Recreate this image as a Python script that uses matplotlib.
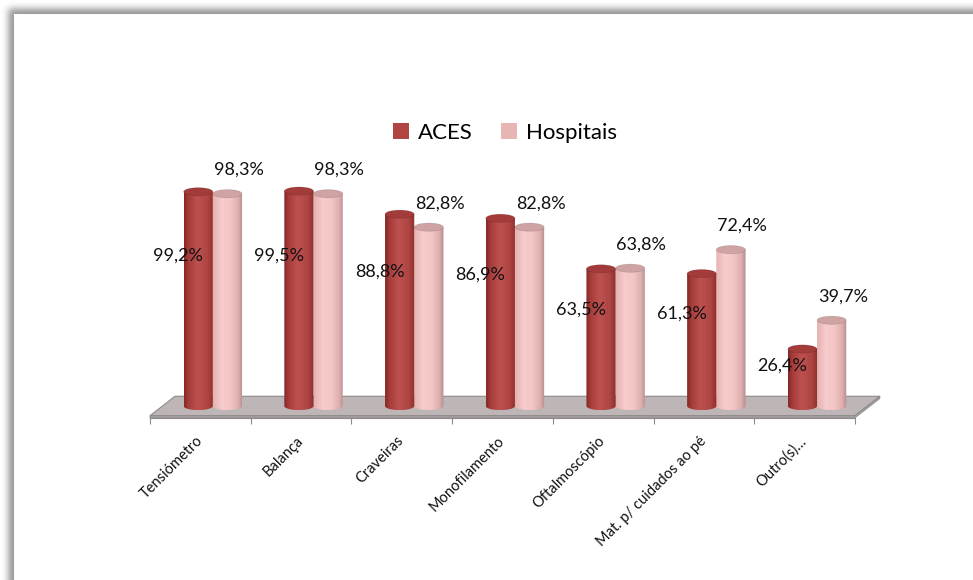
import numpy as np
import matplotlib
matplotlib.use("Agg")
import matplotlib.pyplot as plt
from math import erf
from matplotlib.colors import LinearSegmentedColormap
from matplotlib.patches import Ellipse, PathPatch, Polygon, Patch
from matplotlib.path import Path

plt.rcParams["font.family"] = ["Lato", "DejaVu Sans"]

# -----------------------------
# Data
# -----------------------------
categories = ["Tensiómetro", "Balança", "Craveiras", "Monofilamento",
              "Oftalmoscópio", "Mat. p/ cuidados ao pé", "Outro(s)…"]
aces = [99.2, 99.5, 88.8, 86.9, 63.5, 61.3, 26.4]
hospitais = [98.3, 98.3, 82.8, 82.8, 63.8, 72.4, 39.7]
series_names = ["ACES", "Hospitais"]

# -----------------------------
# Layout (pixels on a 973x580 canvas)
# -----------------------------
W, H = 973, 580
PX_PER_CAT = 100.7      # width of one category slot
X0_PX = 150             # pixel of x = -0.5 (front-left floor corner)
PX_PER_PCT = 2.16       # vertical pixels per percent
BASE_PX = 406           # pixel row of y = 0 (bar bases, mid depth)
XLIM = (-0.6, 7.0)
YLIM = (-12, 112)

DEPTH_X = 0.248         # floor skew, in category units
DEPTH_Y = 9.0           # floor depth, in percent units
FRONT_Y = -DEPTH_Y / 2
BAR_W = 0.29
ELL_H = 3.8

fig = plt.figure(figsize=(W / 100, H / 100), dpi=100)

# drop shadow along the top and left edges of the chart area
bg = fig.add_axes([0, 0, 1, 1])
yy, xx = np.mgrid[0:H, 0:W]
erf_v = np.vectorize(erf)
sx = 0.5 * (1 + erf_v((np.arange(W) - 8) / 5.0))
sy = 0.5 * (1 + erf_v((np.arange(H) - 8) / 5.0))
shade = 1 - 0.42 * sy[:, None] * sx[None, :]
shade[(xx >= 14) & (yy >= 14)] = 1.0
bg.imshow(shade, cmap="gray", vmin=0, vmax=1, extent=[0, W, H, 0], aspect="auto")
bg.set_xlim(0, W)
bg.set_ylim(H, 0)
bg.axis("off")

left_px = X0_PX + (XLIM[0] + 0.5) * PX_PER_CAT
width_px = (XLIM[1] - XLIM[0]) * PX_PER_CAT
bottom_px = BASE_PX - YLIM[0] * PX_PER_PCT
top_px = BASE_PX - YLIM[1] * PX_PER_PCT
ax = fig.add_axes([left_px / W, 1 - bottom_px / H, width_px / W, (bottom_px - top_px) / H])
ax.patch.set_alpha(0)

# -----------------------------
# Floor
# -----------------------------
x_left, x_right = -0.5, len(categories) - 0.5
floor = Polygon([(x_left, FRONT_Y), (x_right, FRONT_Y),
                 (x_right + DEPTH_X, FRONT_Y + DEPTH_Y), (x_left + DEPTH_X, FRONT_Y + DEPTH_Y)],
                closed=True, facecolor="#BEB6B6", edgecolor="#8E8A8A", lw=0.8, zorder=1)
ax.add_patch(floor)
edge = Polygon([(x_left, FRONT_Y), (x_right, FRONT_Y),
                (x_right + DEPTH_X, FRONT_Y + DEPTH_Y), (x_right + DEPTH_X, FRONT_Y + DEPTH_Y - 1.0),
                (x_right, FRONT_Y - 1.0), (x_left, FRONT_Y - 1.0)],
               closed=True, facecolor="#A7A0A0", edgecolor="#8E8A8A", lw=0.6, zorder=1)
ax.add_patch(edge)

# -----------------------------
# Cylinders
# -----------------------------
red_cmap = LinearSegmentedColormap.from_list(
    "red_cyl", [(0, "#862826"), (0.15, "#A53D3B"), (0.45, "#BD514F"), (0.8, "#AE4543"), (1, "#8E2D2B")])
pink_cmap = LinearSegmentedColormap.from_list(
    "pink_cyl", [(0, "#E6B2B2"), (0.3, "#F7CCCC"), (0.6, "#F3C4C4"), (0.85, "#DDAFAF"), (1, "#B58C8C")])
gradient = np.linspace(0, 1, 64)[None, :]


def cylinder(xc, h, cmap, top_color, z):
    t = np.linspace(np.pi, 2 * np.pi, 40)
    verts = [(xc - BAR_W / 2, h)]
    verts += list(zip(xc + BAR_W / 2 * np.cos(t), ELL_H / 2 * np.sin(t)))
    verts += [(xc + BAR_W / 2, h), (xc - BAR_W / 2, h)]
    body = PathPatch(Path(verts, closed=False), facecolor="none", edgecolor="none", zorder=z)
    ax.add_patch(body)
    im = ax.imshow(gradient, cmap=cmap, aspect="auto", zorder=z,
                   extent=[xc - BAR_W / 2, xc + BAR_W / 2, -ELL_H / 2, h])
    im.set_clip_path(body)
    ax.add_patch(Ellipse((xc, h), BAR_W, ELL_H, facecolor=top_color,
                         edgecolor="#00000022", lw=0.5, zorder=z + 0.1))


pair_shift = DEPTH_X / 2
for i, (a, p) in enumerate(zip(aces, hospitais)):
    xr = i + pair_shift - BAR_W / 2
    xp = i + pair_shift + BAR_W / 2
    cylinder(xp, p, pink_cmap, "#CFA3A3", 2)
    cylinder(xr, a, red_cmap, "#A23B39", 3)

    ax.text(xr - 0.2, a * 0.7, f"{a:.1f}%".replace(".", ","), ha="center", va="center",
            fontsize=13, color="#111111", zorder=5)
    ax.text(xp + 0.11, p + 11, f"{p:.1f}%".replace(".", ","), ha="center", va="center",
            fontsize=13, color="#111111", zorder=5)

# -----------------------------
# Category axis
# -----------------------------
for s in ["top", "right", "left"]:
    ax.spines[s].set_visible(False)
ax.spines["bottom"].set_position(("data", FRONT_Y - 1.0))
ax.spines["bottom"].set_bounds(x_left, x_right)
ax.spines["bottom"].set_color("#8E8A8A")
ax.spines["bottom"].set_linewidth(0.8)
ax.set_yticks([])
ax.set_xticks(np.arange(len(categories) + 1) - 0.5, minor=True)
ax.set_xticks(np.arange(len(categories)))
ax.set_xticklabels(categories, rotation=45, ha="right", va="center",
                   rotation_mode="anchor", fontsize=10.5, color="#111111")
ax.tick_params(axis="x", which="major", length=0, pad=15)
ax.tick_params(axis="x", which="minor", length=4, color="#8E8A8A", width=0.8)
ax.set_xlim(*XLIM)
ax.set_ylim(*YLIM)

# -----------------------------
# Legend
# -----------------------------
handles = [Patch(facecolor="#B04442", edgecolor="none"),
           Patch(facecolor="#E8B5B5", edgecolor="none")]
fig.legend(handles, series_names, loc="center", bbox_to_anchor=(505 / W, 1 - 133 / H),
           ncol=2, frameon=False, fontsize=16, handlelength=0.7, handleheight=0.7,
           handletextpad=0.4, columnspacing=1.3)

fig.savefig("out.png", dpi=100)
